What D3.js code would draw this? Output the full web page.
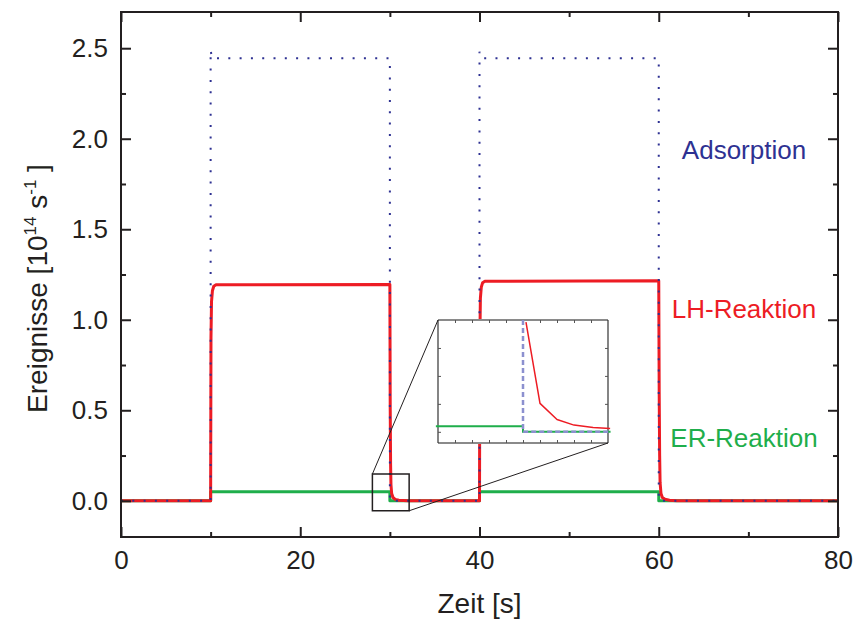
<!DOCTYPE html>
<html>
<head>
<meta charset="utf-8">
<script src="https://cdn.jsdelivr.net/npm/d3@7"></script>
<style>
  html, body { margin: 0; padding: 0; background: #fff; }
  svg { display: block; font-family: "Liberation Sans", Arial, Helvetica, sans-serif; }
</style>
</head>
<body>
<svg id="chart" width="857" height="625"></svg>
<script>
// ---- data -------------------------------------------------------------
// Adsorption events (10^14 s^-1), gas pulses 10–30 s and 40–60 s
const adsTime  = [0, 10, 10, 10.15, 30, 30, 40, 40, 40.15, 60, 60, 80];
const adsValue = [0, 0, 2.49, 2.445, 2.445, 0, 0, 2.48, 2.445, 2.445, 0, 0];

// Langmuir–Hinshelwood reaction rate
const lhTime  = [0, 10, 10.04, 10.1, 10.2, 10.35, 10.6, 30, 30.04, 30.08, 30.12, 30.2, 30.35, 30.6, 31, 32,
                 40, 40, 40.04, 40.1, 40.2, 40.35, 40.6, 60, 60.05, 60.1, 60.15, 60.25, 60.4, 60.7, 61.2, 62, 80];
const lhValue = [0, 0, 0.9, 1.1, 1.16, 1.185, 1.193, 1.195, 0.5, 0.2, 0.09, 0.04, 0.018, 0.008, 0.003, 0,
                 0, 0, 0.9, 1.12, 1.18, 1.205, 1.213, 1.215, 0.6, 0.25, 0.1, 0.04, 0.018, 0.008, 0.003, 0, 0];

// Eley–Rideal reaction rate
const erTime  = [0, 10, 10, 30, 30, 40, 40, 60, 60, 80];
const erValue = [0, 0, 0.05, 0.05, 0, 0, 0.05, 0.05, 0, 0];

// magnified view of the switch-off at 30 s
const insetLhTime  = [30.07, 30.4, 30.8, 31.2, 31.65, 32.05];
const insetLhValue = [0.98, 0.254, 0.11, 0.06, 0.039, 0.03];
const insetErTime  = [27.95, 30, 30, 32.06];
const insetErValue = [0.05, 0.05, 0, 0];
const insetAdsTime  = [30, 30, 32.06];
const insetAdsValue = [1.0, 0, 0];

// axis ticks
const xMajor = [0, 20, 40, 60, 80];
const xMinor = [10, 30, 50, 70];
const yMajor = [0, 0.5, 1.0, 1.5, 2.0, 2.5];
const yMinor = [0.25, 0.75, 1.25, 1.75, 2.25];
const insetXTicks = [28.4, 28.8, 29.2, 29.6, 30, 30.4, 30.8, 31.2, 31.6];
const insetYTicks = [0, 0.25, 0.5, 0.75];

// region of the main plot shown in the magnified view
const zoomTime  = [28.05, 32.15];
const zoomValue = [-0.055, 0.148];

// ---- layout -----------------------------------------------------------
const svg = d3.select("#chart");
const L = 121, R = 838, T = 12, B = 537;
const ink = "#231f20";
const cAds = "#2e3192", cLH = "#ed1c24", cER = "#1fae4b";

const x = d3.scaleLinear().domain([0, 80]).range([L, R]);
const y = d3.scaleLinear().domain([-0.2, 2.7]).range([B, T]);

svg.append("rect").attr("width", 857).attr("height", 625).attr("fill", "#fff");

svg.append("defs").append("clipPath").attr("id", "plotClip")
  .append("rect").attr("x", L).attr("y", T).attr("width", R - L).attr("height", B - T);

const line = (sx, sy) => d3.line().x(d => sx(d[0])).y(d => sy(d[1]));

// ---- series -----------------------------------------------------------
const plot = svg.append("g").attr("clip-path", "url(#plotClip)");

plot.append("path").datum(d3.zip(erTime, erValue))
  .attr("d", line(x, y)).attr("fill", "none")
  .attr("stroke", cER).attr("stroke-width", 3).attr("stroke-linejoin", "round");

plot.append("path").datum(d3.zip(lhTime, lhValue))
  .attr("d", line(x, y)).attr("fill", "none")
  .attr("stroke", cLH).attr("stroke-width", 3).attr("stroke-linejoin", "round");

plot.append("path").datum(d3.zip(adsTime, adsValue))
  .attr("d", line(x, y)).attr("fill", "none")
  .attr("stroke", cAds).attr("stroke-width", 2)
  .attr("stroke-dasharray", "2,9.3");

// ---- axes -------------------------------------------------------------
function styleAxis(g) {
  g.select(".domain").remove();
  g.selectAll(".tick line").attr("stroke", ink).attr("stroke-width", 2);
  g.selectAll(".tick text").attr("fill", ink).attr("font-size", 26)
    .attr("font-family", "Liberation Sans, Arial, sans-serif");
}

svg.append("g").attr("transform", `translate(0,${B})`)
  .call(d3.axisBottom(x).tickValues(xMajor).tickFormat(d3.format("d"))
        .tickSizeInner(-10).tickSizeOuter(0).tickPadding(14))
  .call(styleAxis);
svg.append("g").attr("transform", `translate(0,${B})`)
  .call(d3.axisBottom(x).tickValues(xMinor).tickFormat("").tickSizeInner(-5).tickSizeOuter(0))
  .call(styleAxis);
svg.append("g").attr("transform", `translate(0,${T})`)
  .call(d3.axisTop(x).tickValues(xMajor).tickFormat("").tickSizeInner(-10).tickSizeOuter(0))
  .call(styleAxis);
svg.append("g").attr("transform", `translate(0,${T})`)
  .call(d3.axisTop(x).tickValues(xMinor).tickFormat("").tickSizeInner(-5).tickSizeOuter(0))
  .call(styleAxis);

svg.append("g").attr("transform", `translate(${L},0)`)
  .call(d3.axisLeft(y).tickValues(yMajor).tickFormat(d3.format(".1f"))
        .tickSizeInner(-10).tickSizeOuter(0).tickPadding(13))
  .call(styleAxis);
svg.append("g").attr("transform", `translate(${L},0)`)
  .call(d3.axisLeft(y).tickValues(yMinor).tickFormat("").tickSizeInner(-5).tickSizeOuter(0))
  .call(styleAxis);
svg.append("g").attr("transform", `translate(${R},0)`)
  .call(d3.axisRight(y).tickValues(yMajor).tickFormat("").tickSizeInner(-10).tickSizeOuter(0))
  .call(styleAxis);
svg.append("g").attr("transform", `translate(${R},0)`)
  .call(d3.axisRight(y).tickValues(yMinor).tickFormat("").tickSizeInner(-5).tickSizeOuter(0))
  .call(styleAxis);

// plot frame
svg.append("rect").attr("x", L).attr("y", T).attr("width", R - L).attr("height", B - T)
  .attr("fill", "none").attr("stroke", ink).attr("stroke-width", 2);

// ---- axis titles ------------------------------------------------------
svg.append("text").attr("x", (L + R) / 2).attr("y", 613)
  .attr("text-anchor", "middle").attr("font-size", 28).attr("fill", ink)
  .text("Zeit [s]");

const yt = svg.append("text")
  .attr("transform", `translate(47,${(T + B) / 2 + 14}) rotate(-90)`)
  .attr("text-anchor", "middle").attr("font-size", 28).attr("fill", ink);
yt.append("tspan").text("Ereignisse [10");
yt.append("tspan").attr("font-size", 17).attr("dy", -11).text("14");
yt.append("tspan").attr("dy", 11).text(" s");
yt.append("tspan").attr("font-size", 17).attr("dy", -11).text("-1");
yt.append("tspan").attr("dy", 11).text(" ]");

// ---- series labels ----------------------------------------------------
const labelX = 744;
svg.append("text").attr("x", labelX).attr("y", 159).attr("text-anchor", "middle")
  .attr("font-size", 26).attr("fill", cAds).text("Adsorption");
svg.append("text").attr("x", labelX).attr("y", 318).attr("text-anchor", "middle")
  .attr("font-size", 26).attr("fill", cLH).text("LH-Reaktion");
svg.append("text").attr("x", labelX).attr("y", 447).attr("text-anchor", "middle")
  .attr("font-size", 26).attr("fill", cER).text("ER-Reaktion");

// ---- magnified view ---------------------------------------------------
const iL = 438, iR = 608, iT = 320, iB = 443;
const ix = d3.scaleLinear().domain([28, 32]).range([iL, iR]);
const iy = d3.scaleLinear().domain([-0.1, 1.0]).range([iB, iT]);

// marker rectangle and connector lines
const zx0 = x(zoomTime[0]), zx1 = x(zoomTime[1]);
const zy0 = y(zoomValue[1]), zy1 = y(zoomValue[0]);
svg.append("rect").attr("x", zx0).attr("y", zy0).attr("width", zx1 - zx0).attr("height", zy1 - zy0)
  .attr("fill", "none").attr("stroke", ink).attr("stroke-width", 1.5);

const inset = svg.append("g");
inset.append("rect").attr("x", iL).attr("y", iT).attr("width", iR - iL).attr("height", iB - iT)
  .attr("fill", "#fff");

svg.append("line").attr("x1", zx0).attr("y1", zy0).attr("x2", iL).attr("y2", iT)
  .attr("stroke", ink).attr("stroke-width", 1);
svg.append("line").attr("x1", zx1).attr("y1", zy1).attr("x2", iR).attr("y2", iB)
  .attr("stroke", ink).attr("stroke-width", 1);

// inset frame: grey top/bottom, dark sides
inset.append("line").attr("x1", iL).attr("x2", iR).attr("y1", iT).attr("y2", iT)
  .attr("stroke", "#8a8a8a").attr("stroke-width", 2);
inset.append("line").attr("x1", iL).attr("x2", iR).attr("y1", iB).attr("y2", iB)
  .attr("stroke", "#8a8a8a").attr("stroke-width", 2);
inset.append("line").attr("x1", iL).attr("x2", iL).attr("y1", iT).attr("y2", iB)
  .attr("stroke", "#333").attr("stroke-width", 1.2);
inset.append("line").attr("x1", iR).attr("x2", iR).attr("y1", iT).attr("y2", iB)
  .attr("stroke", "#333").attr("stroke-width", 1.2);

function styleInsetAxis(g) {
  g.select(".domain").remove();
  g.selectAll(".tick line").attr("stroke", "#555").attr("stroke-width", 1);
}
inset.append("g").attr("transform", `translate(0,${iT})`)
  .call(d3.axisTop(ix).tickValues(insetXTicks).tickFormat("").tickSizeInner(-3).tickSizeOuter(0))
  .call(styleInsetAxis);
inset.append("g").attr("transform", `translate(0,${iB})`)
  .call(d3.axisBottom(ix).tickValues(insetXTicks).tickFormat("").tickSizeInner(-3).tickSizeOuter(0))
  .call(styleInsetAxis);
inset.append("g").attr("transform", `translate(${iL},0)`)
  .call(d3.axisLeft(iy).tickValues(insetYTicks).tickFormat("").tickSizeInner(-3).tickSizeOuter(0))
  .call(styleInsetAxis);
inset.append("g").attr("transform", `translate(${iR},0)`)
  .call(d3.axisRight(iy).tickValues(insetYTicks).tickFormat("").tickSizeInner(-3).tickSizeOuter(0))
  .call(styleInsetAxis);

inset.append("path").datum(d3.zip(insetErTime, insetErValue))
  .attr("d", line(ix, iy)).attr("fill", "none")
  .attr("stroke", cER).attr("stroke-width", 2);
inset.append("path").datum(d3.zip(insetAdsTime, insetAdsValue))
  .attr("d", line(ix, iy)).attr("fill", "none")
  .attr("stroke", "#8c90cf").attr("stroke-width", 2.5).attr("stroke-dasharray", "5,3");
inset.append("path").datum(d3.zip(insetLhTime, insetLhValue))
  .attr("d", line(ix, iy)).attr("fill", "none")
  .attr("stroke", cLH).attr("stroke-width", 1.5).attr("stroke-linejoin", "round");
</script>
</body>
</html>
